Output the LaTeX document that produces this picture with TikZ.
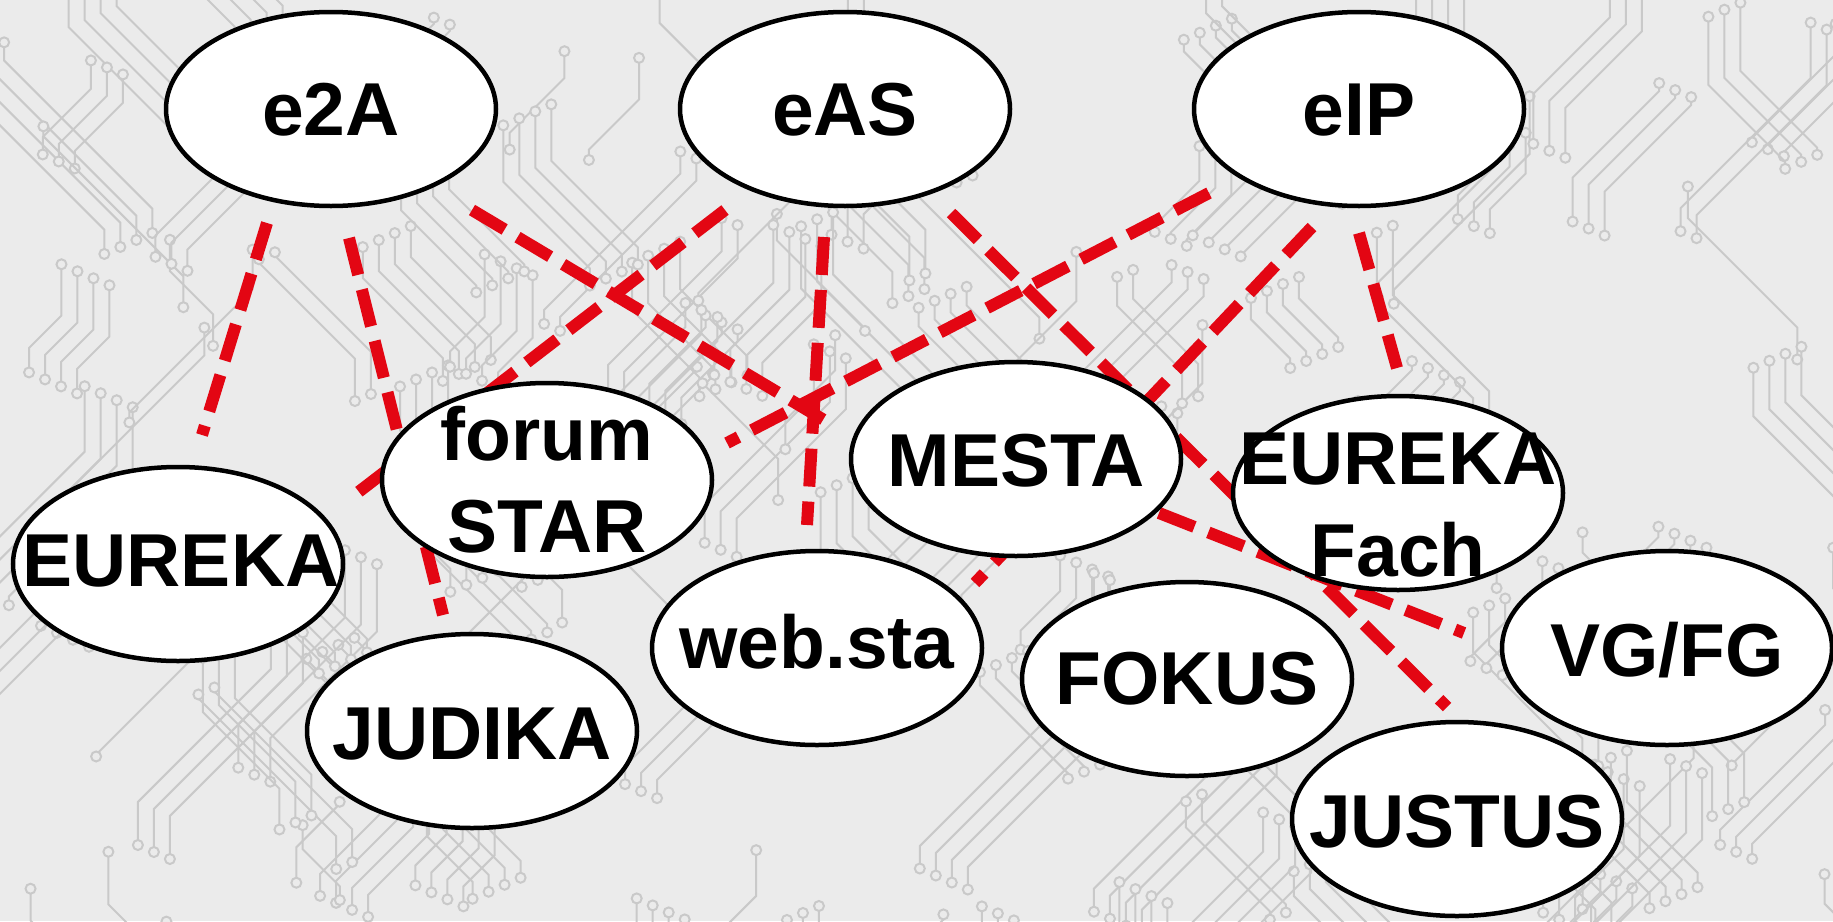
\documentclass[tikz,border=0pt]{standalone}
\usepackage{fontspec}
\setmainfont{Liberation Sans}
\usetikzlibrary{calc,shapes.geometric}
\definecolor{bgc}{HTML}{EBEBEB}
\definecolor{tracec}{HTML}{C9C9C9}
\definecolor{linkred}{HTML}{E30613}
\pgfdeclarelayer{bglayer}
\pgfdeclarelayer{linklayer}
\pgfsetlayers{bglayer,linklayer,main}
\begin{document}
\begin{tikzpicture}[x=1pt,y=-1pt,
  ell/.style={draw=black,fill=white,line width=4.5pt,ellipse,minimum width=330pt,minimum height=194pt,inner sep=0pt},
  lbl/.style={font=\fontsize{75}{92}\selectfont\bfseries,align=center,inner sep=0pt},
  link/.style={draw=linkred,line width=12pt,dash pattern=on 38pt off 15pt,line cap=butt},
  trc/.style={draw=tracec,line width=2pt},
  pad/.style={draw=tracec,fill=bgc,line width=2pt}]
\useasboundingbox (0,0) rectangle (1833,921);
\begin{pgfonlayer}{bglayer}
\fill[bgc] (0,0) rectangle (1833,921);
\begin{scope}
\clip (0,0) rectangle (1833,921);
\pgfmathsetseed{7}
\foreach \i in {1,...,130}{
  \pgfmathsetmacro{\sx}{rnd*1950-60}
  \pgfmathsetmacro{\sy}{rnd*1000-60}
  \pgfmathsetmacro{\dd}{(rnd<0.5?-1:1)}
  \pgfmathsetmacro{\la}{30+rnd*120}
  \pgfmathsetmacro{\lb}{rnd*70}
  \pgfmathsetmacro{\lc}{rnd*50}
  \pgfmathtruncatemacro{\nk}{1+int(rnd*4)}
  \foreach \k in {1,...,\nk}{
    \pgfmathsetmacro{\ox}{\sx+\k*16}
    \pgfmathsetmacro{\oy}{\sy-\dd*\k*7}
    \pgfmathsetmacro{\ex}{\ox+\dd*\la}
    \pgfmathsetmacro{\ey}{\oy+\lb+\la+\lc}
    \draw[trc] (\ox,\oy) -- ++(0,\lb) -- ++(\dd*\la,\la) -- ++(0,\lc);
    \draw[pad] (\ox,\oy) circle[radius=5];
    \draw[pad] (\ex,\ey) circle[radius=5];
  }
}
\end{scope}
\end{pgfonlayer}
% nodes (ellipses)
\node[ell] (e2A) at (331,109) {};
\node[ell] (eAS) at (845,109) {};
\node[ell] (eIP) at (1359,109) {};
\node[ell] (forum) at (547,480) {};
\node[ell] (mesta) at (1016,459) {};
\node[ell] (efach) at (1398,493) {};
\node[ell] (eureka) at (178,564) {};
\node[ell] (websta) at (817,648) {};
\node[ell] (vgfg) at (1667,648) {};
\node[ell] (fokus) at (1187,679) {};
\node[ell] (judika) at (472,731) {};
\node[ell] (justus) at (1457,819) {};
% labels
\node[lbl] (t-e2A) at ($(e2A)+(0,1)$) {e2A};
\node[lbl] (t-eAS) at ($(eAS)+(0,1)$) {eAS};
\node[lbl] (t-eIP) at ($(eIP)+(0,1)$) {eIP};
\node[lbl] (t-forum) at ($(forum)+(0,0)$) {forum\\STAR};
\node[lbl] (t-mesta) at ($(mesta)+(0,2)$) {MESTA};
\node[lbl] (t-efach) at ($(efach)+(0,12)$) {EUREKA\\Fach};
\node[lbl] (t-eureka) at ($(eureka)+(3,-3)$) {EUREKA};
\node[lbl] (t-websta) at ($(websta)+(0,-6)$) {web.sta};
\node[lbl] (t-vgfg) at ($(vgfg)+(0,2)$) {VG/FG};
\node[lbl] (t-fokus) at ($(fokus)+(0,0)$) {FOKUS};
\node[lbl] (t-judika) at ($(judika)+(0,3)$) {JUDIKA};
\node[lbl] (t-justus) at ($(justus)+(0,3)$) {JUSTUS};
% connectors drawn behind the ellipses
\begin{pgfonlayer}{linklayer}
\draw[link] ($(e2A)+(-64,114)$) -- ($(eureka)+(24,-129)$);
\draw[link] ($(e2A)+(18,129)$) -- ($(judika)+(-29,-116)$);
\draw[link] ($(e2A)+(141,101)$) -- ($(mesta)+(-192,-39)$);
\draw[link] ($(eAS)+(-120,101)$) -- ($(eureka)+(174,-67)$);
\draw[link] ($(eAS)+(-21,128)$) -- ($(websta)+(-10,-123)$);
\draw[link] ($(eAS)+(106,104)$) -- ($(justus)+(-10,-112)$);
\draw[link] ($(eIP)+(-150,84)$) -- ($(forum)+(180,-37)$);
\draw[link] ($(eIP)+(-47,118)$) -- ($(websta)+(158,-65)$);
\draw[link] ($(eIP)+(0,124)$) -- ($(efach)+(-1,-125)$);
\draw[link] ($(mesta)+(143,54)$) -- ($(vgfg)+(-203,-15)$);
\end{pgfonlayer}
\end{tikzpicture}
\end{document}
